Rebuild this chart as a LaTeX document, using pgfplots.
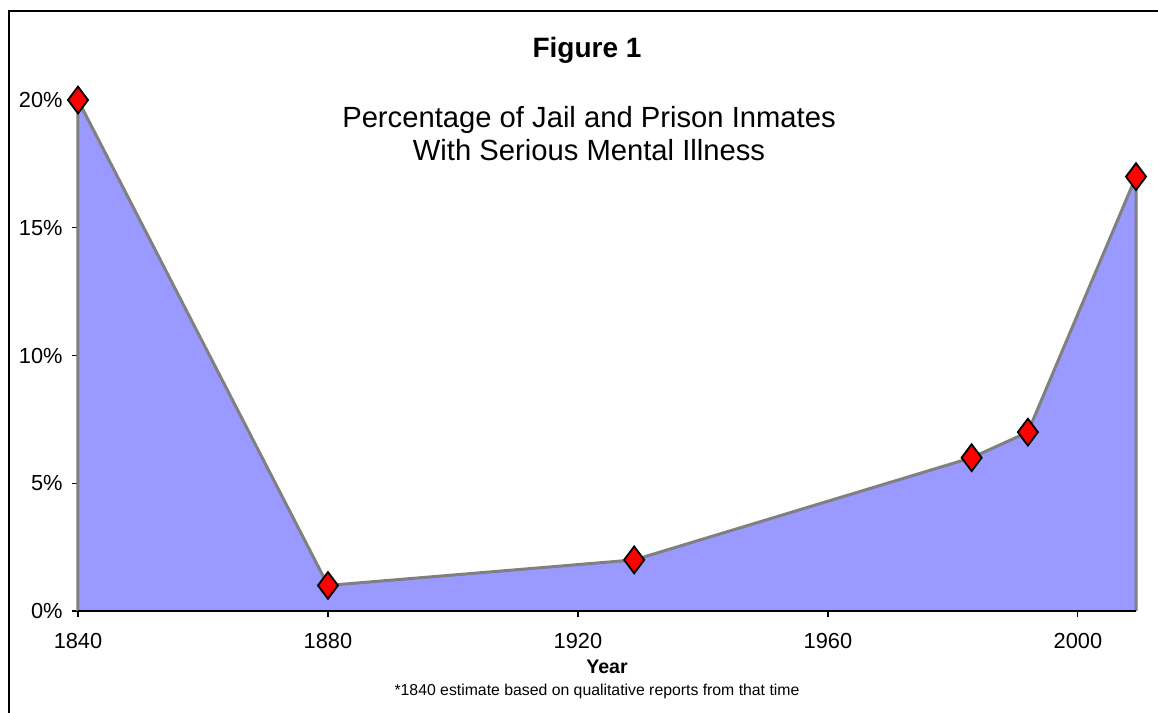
\documentclass[border=0pt]{standalone}
\usepackage{pgfplots}
\pgfplotsset{compat=1.18}
\usepackage{fontspec}
\setmainfont{Liberation Sans}
\definecolor{areablue}{HTML}{9999FF}
\definecolor{linegray}{HTML}{808080}
\begin{document}
\begin{tikzpicture}
\path[use as bounding box] (0,0) rectangle (579pt,356.5pt);
\draw[black, line width=0.7pt] (4.5pt,0) -- (4.5pt,351pt) -- (579pt,351pt);
\begin{axis}[
  at={(39pt,51pt)}, anchor=south west,
  scale only axis, width=529pt, height=255.5pt,
  xmin=1840, xmax=2009.3, ymin=0, ymax=20,
  clip=false,
  axis lines*=left,
  x axis line style={black, line width=0.7pt, -},
  y axis line style={draw=none},
  tick align=outside, major tick length=3pt,
  tick style={black, line width=0.6pt},
  xtick={1840,1880,1920,1960,2000},
  xticklabels={1840,1880,1920,1960,2000},
  ytick={0,5,10,15,20},
  yticklabels={0\%,5\%,10\%,15\%,20\%},
  /pgf/number format/assume math mode=true,
  ticklabel style={font=\fontsize{10.9}{12}\selectfont},
  xticklabel style={anchor=north, inner sep=0pt, yshift=-8pt},
  yticklabel style={anchor=east, inner sep=0pt, xshift=-4.5pt},
]
\addplot[fill=areablue, draw=none] coordinates {
  (1840,0) (1840,20) (1880,1) (1929,2) (1983,6) (1992,7) (2009.3,17) (2009.3,0)
} -- cycle;
\addplot[linegray, line width=1.5pt, line join=round] coordinates {
  (1840,0) (1840,20) (1880,1) (1929,2) (1983,6) (1992,7) (2009.3,17) (2009.3,0)
};
\draw[black, line width=0.7pt] (axis cs:1840,0) -- (axis cs:2009.3,0);
\addplot[only marks, mark=diamond*, mark size=6.7pt,
  mark options={fill=red, draw=black, line width=0.9pt}] coordinates {
  (1840,20) (1880,1) (1929,2) (1983,6) (1992,7) (2009.3,17)
};
\end{axis}
\node[font=\bfseries\fontsize{14}{16}\selectfont] at (293.5pt,331.5pt) {Figure 1};
\node[align=center, font=\fontsize{14.6}{16.5}\selectfont] at (294.5pt,289.75pt)
  {Percentage of Jail and Prison Inmates\\With Serious Mental Illness};
\node[font=\bfseries\fontsize{9.8}{11}\selectfont] at (303.5pt,23pt) {Year};
\node[font=\fontsize{7.9}{9}\selectfont] at (298.5pt,11pt)
  {*1840 estimate based on qualitative reports from that time};
\end{tikzpicture}
\end{document}
